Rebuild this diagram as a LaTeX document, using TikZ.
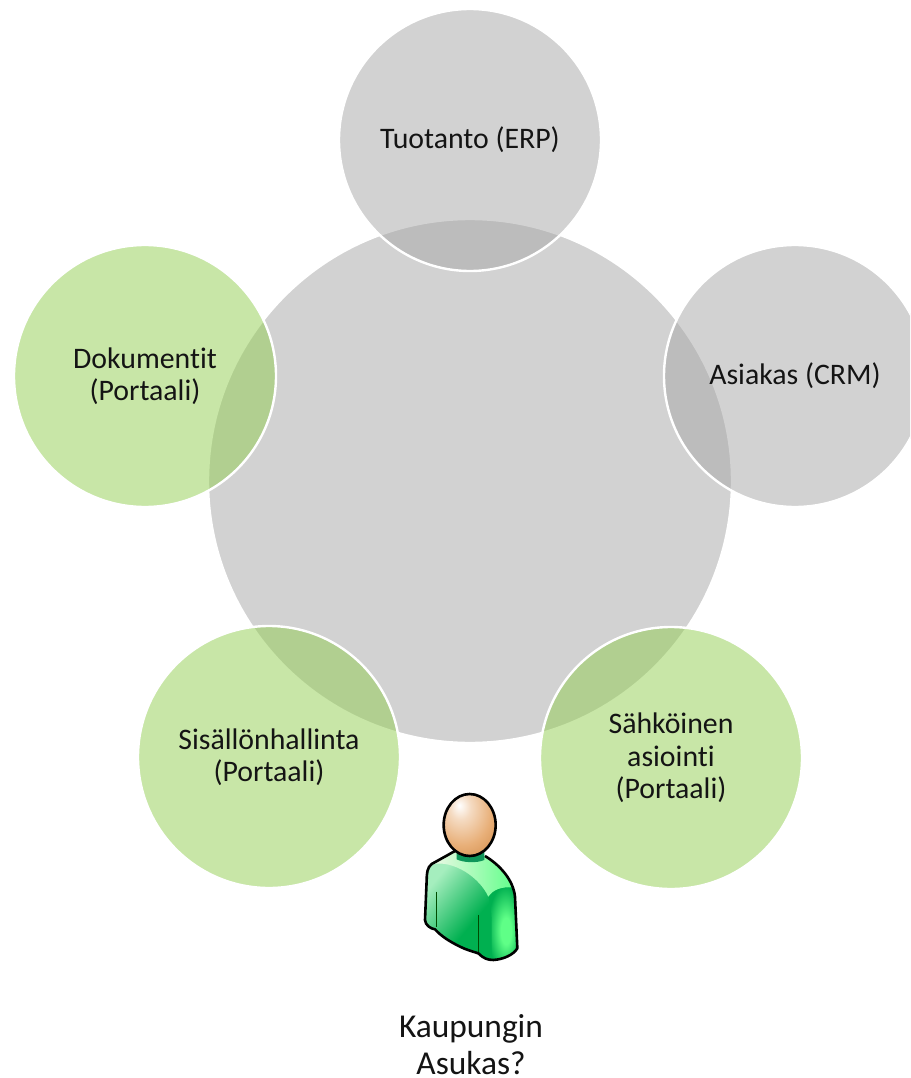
\documentclass[tikz,border=0pt]{standalone}
\usepackage{fontspec}
\setmainfont[Ligatures=CommonOff]{Carlito}
\definecolor{greyfill}{RGB}{167,167,167}
\definecolor{greenfill}{RGB}{146,206,80}
\definecolor{inktext}{RGB}{20,20,20}
\definecolor{skinedge}{RGB}{200,125,55}
\definecolor{skinmid}{RGB}{232,175,120}
\definecolor{shirtdark}{RGB}{0,176,80}
\definecolor{shirtlight}{RGB}{165,238,190}
\definecolor{shirtglow}{RGB}{95,255,135}
\definecolor{shoulderA}{RGB}{240,248,232}
\definecolor{shoulderB}{RGB}{100,255,140}
\definecolor{collarc}{RGB}{15,150,90}
\pgfdeclareradialshading{headshade}{\pgfpoint{-10bp}{16bp}}{
  color(0bp)=(white); color(10bp)=(skinmid!45!white); color(28bp)=(skinmid); color(52bp)=(skinedge); color(100bp)=(skinedge)}
\pgfdeclareradialshading{sleeveshade}{\pgfpoint{6bp}{-6bp}}{
  color(0bp)=(shirtglow); color(9bp)=(shirtglow); color(30bp)=(shirtdark); color(100bp)=(shirtdark)}
\pgfdeclarehorizontalshading{bodyshade}{100bp}{
  color(0bp)=(shirtlight); color(28bp)=(shirtlight); color(56bp)=(shirtdark); color(100bp)=(shirtdark)}
\tikzset{
  bubble/.style={circle,inner sep=0pt,outer sep=0pt,minimum size=262pt,draw=white,line width=2.4pt,
    fill opacity=.5,text opacity=1,align=center,text=inktext,
    font=\fontsize{29.8}{32.5}\selectfont},
  greybubble/.style={bubble,fill=greyfill},
  greenbubble/.style={bubble,fill=greenfill},
  hub/.style={greybubble,minimum size=524pt},
  caption/.style={align=center,text=inktext,inner sep=0pt,font=\fontsize{33.4}{37}\selectfont},
  outlinepen/.style={draw=black,line width=2.6pt,line join=round},
  seam/.style={draw=black!70!green,line width=1.5pt}
}
\begin{document}
\begin{tikzpicture}[x=1pt,y=-1pt]
\clip (0,0) rectangle (910,1078);
\fill[white] (0,0) rectangle (910,1078);
\node[hub] (hubc) at (470,481) {};
\node[greybubble] (erp) at (470,140) {Tuotanto (ERP)};
\node[greybubble] (crm) at (795,376) {Asiakas (CRM)};
\node[greenbubble] (dok) at (145,376) {Dokumentit\\(Portaali)};
\node[greenbubble] (sis) at (269,757) {Sisällönhallinta\\(Portaali)};
\node[greenbubble] (sah) at (671,758) {Sähköinen\\asiointi\\(Portaali)};
\begin{scope}[shift={(400,780)},x=.3333pt,y=-.3333pt]
  % body
  \path[shading=bodyshade,shading angle=-40]
    (165,213) -- (95,252) .. controls (82,262) and (80,280) .. (80,300)
    -- (75,420) .. controls (76,436) and (92,446) .. (105,448)
    .. controls (125,470) and (150,485) .. (180,500)
    .. controls (200,510) and (220,515) .. (235,520)
    .. controls (250,535) and (262,540) .. (280,540)
    .. controls (310,538) and (340,525) .. (352,505)
    -- (345,350) .. controls (340,300) and (300,255) .. (255,228) -- cycle;
  % sleeve
  \path[shading=sleeveshade]
    (265,350) .. controls (280,328) and (305,320) .. (338,322)
    .. controls (343,335) and (344,342) .. (345,350) -- (352,505)
    .. controls (340,525) and (310,538) .. (275,538) -- (275,430)
    .. controls (275,400) and (272,370) .. (265,350) -- cycle;
  % shoulder highlight
  \path[shade,left color=shoulderA,right color=shoulderB]
    (95,252) -- (165,213) -- (255,228)
    .. controls (290,250) and (322,285) .. (338,322)
    .. controls (305,320) and (280,328) .. (265,350)
    .. controls (240,295) and (165,240) .. (95,252) -- cycle;
  % collar
  \fill[collarc] (170,215) -- (170,238) .. controls (190,248) and (230,250) .. (253,240) -- (253,215) -- cycle;
  % seams
  \draw[seam] (110,335) -- (110,442);
  \draw[seam] (235,405) -- (235,518);
  % outline
  \path[outlinepen]
    (165,213) -- (95,252) .. controls (82,262) and (80,280) .. (80,300)
    -- (75,420) .. controls (76,436) and (92,446) .. (105,448)
    .. controls (125,470) and (150,485) .. (180,500)
    .. controls (200,510) and (220,515) .. (235,520)
    .. controls (250,535) and (262,540) .. (280,540)
    .. controls (310,538) and (340,525) .. (352,505)
    -- (345,350) .. controls (340,300) and (300,255) .. (255,228);
  % head
  \path[shading=headshade,outlinepen] (209,135) ellipse [x radius=78,y radius=93];
\end{scope}
\node[caption] (asukas) at (471,1045) {Kaupungin\\Asukas?};
\end{tikzpicture}
\end{document}
